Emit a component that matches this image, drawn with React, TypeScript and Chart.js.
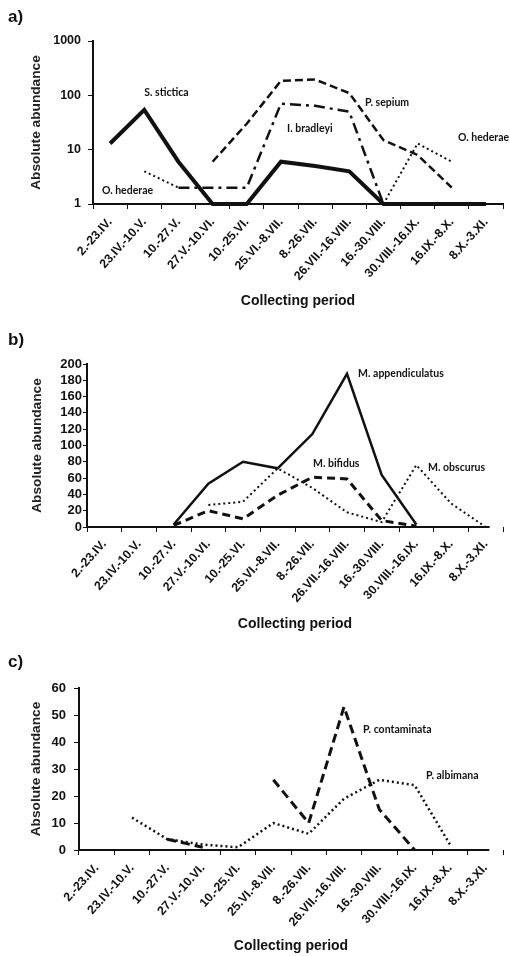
import React, { useEffect, useRef } from "react";
import { Chart, registerables } from "chart.js";

Chart.register(...registerables);

// ---------- data ----------
const categories = [
  "2.-23.IV.",
  "23.IV.-10.V.",
  "10.-27.V.",
  "27.V.-10.VI.",
  "10.-25.VI.",
  "25.VI.-8.VII.",
  "8.-26.VII.",
  "26.VII.-16.VIII.",
  "16.-30.VIII.",
  "30.VIII.-16.IX.",
  "16.IX.-8.X.",
  "8.X.-3.XI.",
];

// panel a (log scale)
const sStictica = [13, 54, 6, 1, 1, 6, 5, 4, 1, 1, 1, 1];
const pSepium = [null, null, null, 6, 30, 185, 195, 110, 15, 8, 2, null];
const iBradleyi = [null, null, 2, 2, 2, 70, 64, 50, 1, null, null, null];
const oHederae = [null, 4, 2, null, null, null, null, null, 1, 13, 6, null];
const logTickValues = [1, 10, 100, 1000];

// panel b
const mAppendiculatus = [null, null, 3, 53, 80, 72, 114, 188, 64, 3, null, null];
const mBifidus = [null, null, 2, 20, 10, 39, 61, 59, 8, 1, null, null];
const mObscurus = [null, null, null, 27, 31, 72, 48, 18, 6, 76, 29, 0];

// panel c
const pContaminata = [null, null, 4, 1, null, 26, 10, 53, 15, 0, null, null];
const pAlbimana = [null, 12, 4, 2, 1, 10, 6, 19, 26, 24, 2, null];

// text annotations anchored in data space (category index, value)
type Note = { text: string; cat: number; val: number };
const notesA: Note[] = [
  { text: "S. stictica", cat: 1.0, val: 110 },
  { text: "P. sepium", cat: 7.46, val: 75 },
  { text: "I. bradleyi", cat: 5.18, val: 24 },
  { text: "O. hederae", cat: 10.18, val: 17 },
  { text: "O. hederae", cat: -0.24, val: 1.73 },
];
const notesB: Note[] = [
  { text: "M. appendiculatus", cat: 7.32, val: 188 },
  { text: "M. bifidus", cat: 6.02, val: 78 },
  { text: "M. obscurus", cat: 9.34, val: 73 },
];
const notesC: Note[] = [
  { text: "P. contaminata", cat: 7.54, val: 44.7 },
  { text: "P. albimana", cat: 9.32, val: 27.7 },
];

// ---------- styling ----------
const FONT = "'Liberation Sans', Arial, sans-serif";
const NOTE_FONT = "Lato, 'Liberation Sans', sans-serif";
const INK = "#111";

type Series = { name: string; data: (number | null)[]; width: number; dash: number[] };
type PanelSpec = {
  letter: string;
  letterY: number;
  height: number;
  top: number;
  bottom: number;
  left: number;
  right: number;
  yType: "linear" | "logarithmic";
  yMin: number;
  yMax: number;
  yStep?: number;
  yTickFont: number;
  yTickLen: number;
  yTickPad: number;
  yTitlePad: number;
  xTitlePad: number;
  xTickPad: number;
  fullAxis: boolean;
  series: Series[];
  notes: Note[];
};

const panels: PanelSpec[] = [
  {
    letter: "a)", letterY: 22, height: 320, top: 41, bottom: 204, left: 93, right: 503,
    yType: "logarithmic", yMin: 1, yMax: 1000, yTickFont: 12.5, yTickLen: 5, yTickPad: 7,
    yTitlePad: 28, xTitlePad: 10.5, xTickPad: 6, fullAxis: true,
    series: [
      { name: "S. stictica", data: sStictica, width: 4, dash: [] },
      { name: "P. sepium", data: pSepium, width: 2.5, dash: [8, 4] },
      { name: "I. bradleyi", data: iBradleyi, width: 2.5, dash: [11, 5, 3, 5] },
      { name: "O. hederae", data: oHederae, width: 2, dash: [2, 3] },
    ],
    notes: notesA,
  },
  {
    letter: "b)", letterY: 25, height: 320, top: 44, bottom: 207, left: 87, right: 503,
    yType: "linear", yMin: 0, yMax: 200, yStep: 20, yTickFont: 13, yTickLen: 4, yTickPad: 1,
    yTitlePad: 29, xTitlePad: 7.5, xTickPad: 5, fullAxis: false,
    series: [
      { name: "M. appendiculatus", data: mAppendiculatus, width: 2.5, dash: [] },
      { name: "M. bifidus", data: mBifidus, width: 3, dash: [8, 5] },
      { name: "M. obscurus", data: mObscurus, width: 2, dash: [2, 3] },
    ],
    notes: notesB,
  },
  {
    letter: "c)", letterY: 27, height: 316, top: 48, bottom: 210, left: 79, right: 503,
    yType: "linear", yMin: 0, yMax: 60, yStep: 10, yTickFont: 13, yTickLen: 5, yTickPad: 8,
    yTitlePad: 28, xTitlePad: 1.5, xTickPad: 6, fullAxis: false,
    series: [
      { name: "P. contaminata", data: pContaminata, width: 3, dash: [9, 5] },
      { name: "P. albimana", data: pAlbimana, width: 2.5, dash: [2, 3] },
    ],
    notes: notesC,
  },
];

const textPlugin = {
  id: "panelText",
  afterDraw(chart: any, _args: any, opts: any) {
    const { ctx } = chart;
    const xs = chart.scales.x;
    const ys = chart.scales.y;
    ctx.save();
    // custom x axis line (shortened) for panels b and c
    if (!opts.fullAxis) {
      ctx.strokeStyle = INK;
      ctx.lineWidth = 2;
      ctx.beginPath();
      ctx.moveTo(xs.left, xs.top);
      ctx.lineTo(xs.getPixelForValue(categories.length - 1) + 4, xs.top);
      ctx.stroke();
    }
    ctx.fillStyle = INK;
    ctx.font = `bold 17px ${FONT}`;
    ctx.textAlign = "left";
    ctx.textBaseline = "alphabetic";
    ctx.fillText(opts.letter, 8, opts.letterY);
    ctx.font = `bold 10.5px ${NOTE_FONT}`;
    ctx.textBaseline = "middle";
    for (const n of opts.notes as Note[]) {
      ctx.fillText(n.text, xs.getPixelForValue(n.cat), ys.getPixelForValue(n.val));
    }
    ctx.restore();
  },
};

function buildConfig(p: PanelSpec): any {
  const yScale: any = {
    type: p.yType,
    min: p.yMin,
    max: p.yMax,
    grid: { drawOnChartArea: false, drawTicks: true, tickLength: p.yTickLen, color: INK, lineWidth: 1 },
    border: { display: true, color: INK, width: 2 },
    ticks: {
      autoSkip: false,
      color: INK,
      padding: p.yTickPad,
      font: { family: FONT, weight: "bold", size: p.yTickFont },
      callback: (v: any) => String(v),
    },
    title: {
      display: true,
      text: "Absolute abundance",
      color: "#222",
      font: { family: FONT, weight: "bold", size: 13.7 },
      padding: { top: p.yTitlePad, bottom: 0 },
    },
    afterFit: (s: any) => {
      s.width = p.left;
    },
  };
  if (p.yType === "logarithmic") {
    yScale.afterBuildTicks = (s: any) => {
      s.ticks = logTickValues.map((v) => ({ value: v }));
    };
  } else {
    yScale.ticks.stepSize = p.yStep;
  }
  const lastIdx = categories.length;
  return {
    type: "line",
    data: {
      labels: categories,
      datasets: p.series.map((s) => ({
        label: s.name,
        data: s.data,
        borderColor: INK,
        backgroundColor: INK,
        borderWidth: s.width,
        borderDash: s.dash,
        borderCapStyle: "butt",
        borderJoinStyle: "miter",
        pointRadius: 0,
        pointHoverRadius: 0,
        tension: 0,
        fill: false,
        spanGaps: false,
        clip: false,
      })),
    },
    options: {
      animation: false,
      responsive: false,
      events: [],
      layout: { padding: { left: 0, top: p.top, right: 510 - p.right, bottom: 0 } },
      plugins: {
        legend: { display: false },
        tooltip: { enabled: false },
        panelText: { letter: p.letter, letterY: p.letterY, notes: p.notes, fullAxis: p.fullAxis },
      },
      scales: {
        x: {
          type: "category",
          offset: true,
          grid: {
            offset: true,
            drawOnChartArea: false,
            drawTicks: true,
            tickLength: 5,
            lineWidth: 1,
            color: (c: any) => (!p.fullAxis && c.index === lastIdx ? "rgba(0,0,0,0)" : INK),
          },
          border: { display: p.fullAxis, color: INK, width: 2 },
          ticks: {
            autoSkip: false,
            minRotation: 48,
            maxRotation: 48,
            padding: p.xTickPad,
            color: INK,
            font: { family: FONT, weight: "bold", size: 12.3 },
          },
          title: {
            display: true,
            text: "Collecting period",
            color: INK,
            font: { family: FONT, weight: "bold", size: 14 },
            padding: { top: 0, bottom: p.xTitlePad },
          },
          afterFit: (s: any) => {
            s.height = p.height - p.bottom;
          },
        },
        y: yScale,
      },
    },
    plugins: [textPlugin],
  };
}

function Panel({ spec }: { spec: PanelSpec }) {
  const ref = useRef<HTMLCanvasElement | null>(null);
  useEffect(() => {
    if (!ref.current) return;
    const chart = new Chart(ref.current, buildConfig(spec));
    return () => chart.destroy();
  }, [spec]);
  return (
    <canvas
      ref={ref}
      width={510}
      height={spec.height}
      style={{ display: "block", width: 510, height: spec.height }}
    />
  );
}

export default function App() {
  return (
    <div style={{ position: "absolute", left: 0, top: 0, width: 510, height: 956, background: "#fff" }}>
      {panels.map((p) => (
        <Panel key={p.letter} spec={p} />
      ))}
    </div>
  );
}
